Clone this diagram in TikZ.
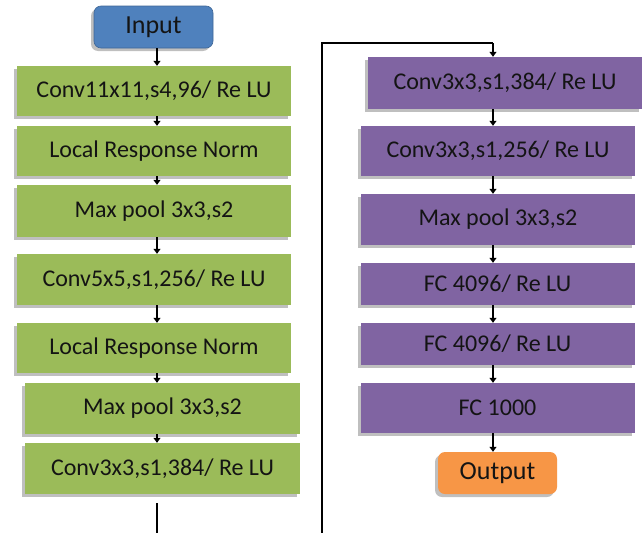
\documentclass[tikz,border=0pt]{standalone}
\usepackage{fontspec}
\setmainfont{Carlito}
\usetikzlibrary{arrows.meta,shadows}
\definecolor{ogreen}{HTML}{9BBB59}
\definecolor{opurple}{HTML}{8064A2}
\definecolor{oblue}{HTML}{4F81BD}
\definecolor{oorange}{HTML}{F79646}
\definecolor{txt}{HTML}{141414}
\tikzset{
  shad/.style={drop shadow={shadow xshift=-3pt,shadow yshift=-3pt,fill=black,opacity=0.25}},
  layer/.style={rectangle,shad,minimum width=274pt,inner sep=0pt,text=txt,font=\fontsize{24}{26}\selectfont},
  gbox/.style={layer,fill=ogreen},
  pbox/.style={layer,fill=opurple},
  term/.style={rectangle,rounded corners=7pt,shad,minimum width=119pt,minimum height=42pt,inner sep=0pt,text=txt,font=\fontsize{26}{28}\selectfont},
  arr/.style={line width=1.2pt,-{Triangle[length=5pt,width=7pt]}},
  link/.style={line width=1.3pt}
}
\begin{document}
\begin{tikzpicture}[x=1pt,y=-1pt]
\useasboundingbox (0,0) rectangle (643,533);
\clip (0,0) rectangle (643,533);
\fill[white] (0,0) rectangle (643,533);
\coordinate (lx) at (157,0);
\coordinate (rx) at (493,0);
% left column
\node[term,fill=oblue,draw=oblue!80!black,line width=0.6pt] (in) at (153.5,27) {Input};
\node[gbox,minimum height=50pt] (g1) at (154,91) {Conv11x11,s4,96/ Re LU};
\node[gbox,minimum height=50pt] (g2) at (154,151) {Local Response Norm};
\node[gbox,minimum height=52pt] (g3) at (154,211) {Max pool 3x3,s2};
\node[gbox,minimum height=51pt] (g4) at (154,279.5) {Conv5x5,s1,256/ Re LU};
\node[gbox,minimum height=50pt] (g5) at (154,348) {Local Response Norm};
\node[gbox,minimum height=51pt,minimum width=275pt] (g6) at (162.5,408.5) {Max pool 3x3,s2};
\node[gbox,minimum height=51pt,minimum width=275pt] (g7) at (162.5,468.5) {Conv3x3,s1,384/ Re LU};
% right column
\node[pbox,minimum height=52pt] (p1) at (505,83) {Conv3x3,s1,384/ Re LU};
\node[pbox,minimum height=50pt] (p2) at (498,151) {Conv3x3,s1,256/ Re LU};
\node[pbox,minimum height=51pt] (p3) at (498,219.5) {Max pool 3x3,s2};
\node[pbox,minimum height=42pt] (p4) at (497.5,284) {FC 4096/ Re LU};
\node[pbox,minimum height=42pt] (p5) at (497.5,344) {FC 4096/ Re LU};
\node[pbox,minimum height=50pt] (p6) at (497.5,408) {FC 1000};
\node[term,fill=oorange] (out) at (497.5,473) {Output};
% left arrows
\foreach \a/\b in {in/g1,g1/g2,g2/g3,g3/g4,g4/g5,g5/g6,g6/g7}
  \draw[arr] (lx |- \a.south) -- (lx |- \b.north);
% right arrows
\foreach \a/\b in {p1/p2,p2/p3,p3/p4,p4/p5,p5/p6,p6/out}
  \draw[arr] (rx |- \a.south) -- (rx |- \b.north);
% long connector
\coordinate (c1) at (157,545);
\coordinate (c2) at (322,545);
\coordinate (c3) at (322,43);
\coordinate (c4) at (493,43);
\draw[link] ([yshift=-9pt]lx |- g7.south) -- (c1) -- (c2) -- (c3) -- (c4);
\draw[arr] (c4) -- (rx |- p1.north);
\end{tikzpicture}
\end{document}
